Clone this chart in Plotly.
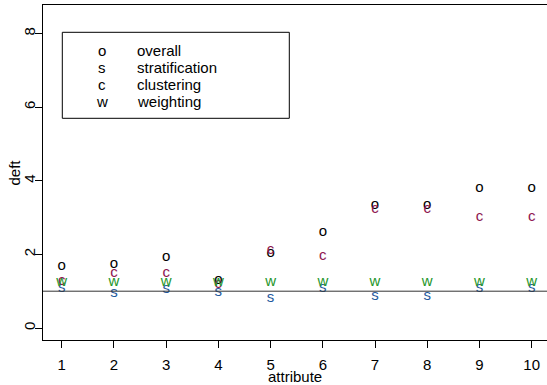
import plotly.graph_objects as go

attribute = [1, 2, 3, 4, 5, 6, 7, 8, 9, 10]
overall = [1.69, 1.73, 1.91, 1.31, 2.02, 2.59, 3.33, 3.33, 3.81, 3.81]
stratification = [1.08, 0.95, 1.06, 0.96, 0.81, 1.07, 0.86, 0.86, 1.07, 1.07]
clustering = [1.28, 1.49, 1.49, 1.18, 2.10, 1.96, 3.23, 3.23, 3.01, 3.01]
weighting = [1.23, 1.23, 1.23, 1.25, 1.23, 1.23, 1.23, 1.24, 1.25, 1.25]

series = [
    ("o", "overall", overall, "#000000"),
    ("s", "stratification", stratification, "#1f5a9e"),
    ("c", "clustering", clustering, "#8e1650"),
    ("w", "weighting", weighting, "#24962a"),
]
y_ticks = [0, 2, 4, 6, 8]
ref_line = 1

FONT = "Liberation Sans, Arial, Helvetica, sans-serif"
W, H = 547, 385
ML, MR, MT, MB = 43, 0, 5, 45
PW, PH = W - ML - MR, H - MT - MB

def px_x(p):
    return (p - ML) / PW

def px_y(p):
    return (H - MB - p) / PH

fig = go.Figure()
for letter, name, vals, col in series:
    fig.add_trace(go.Scatter(
        x=attribute, y=vals, mode="text", text=[letter] * len(vals),
        textposition="middle center",
        textfont=dict(family=FONT, size=15, color=col),
        name=name, showlegend=False, hoverinfo="skip"))

fig.add_shape(type="line", xref="paper", x0=0, x1=1, yref="y", y0=ref_line, y1=ref_line,
              line=dict(color="#333333", width=1))

# legend box
fig.add_shape(type="rect", xref="paper", yref="paper",
              x0=px_x(62.3), x1=px_x(289.3), y0=px_y(118.3), y1=px_y(32.3),
              line=dict(color="#000000", width=1), fillcolor="rgba(0,0,0,0)")
rows = [50, 67.5, 84.5, 101.5]
for (letter, name, vals, col), ry in zip(series, rows):
    fig.add_annotation(xref="paper", yref="paper", x=px_x(101.7), y=px_y(ry),
                       text=letter, showarrow=False, xanchor="center", yanchor="middle",
                       font=dict(family=FONT, size=15, color="#000000"))
    fig.add_annotation(xref="paper", yref="paper", x=px_x(136), y=px_y(ry),
                       text=name, showarrow=False, xanchor="left", yanchor="middle",
                       borderpad=0, font=dict(family=FONT, size=15, color="#000000"))

fig.add_annotation(xref="paper", yref="paper", x=0.5, y=px_y(376),
                   text="attribute", showarrow=False, xanchor="center", yanchor="middle",
                   font=dict(family=FONT, size=15, color="#000000"))
fig.add_annotation(xref="paper", yref="paper", x=px_x(14), y=0.5, textangle=-90,
                   text="deft", showarrow=False, xanchor="center", yanchor="middle",
                   font=dict(family=FONT, size=15, color="#000000"))

fig.update_xaxes(range=[0.642, 10.293], tickmode="array", tickvals=attribute,
                 ticktext=[str(a) for a in attribute], ticks="outside", ticklen=7,
                 tickcolor="#000000", showline=True, linecolor="#000000", linewidth=1,
                 mirror=True, showgrid=False, zeroline=False, automargin=False,
                 ticklabelstandoff=4,
                 tickfont=dict(family=FONT, size=15, color="#000000"))
fig.update_yaxes(range=[-0.326, 8.777], tickmode="array", tickvals=y_ticks,
                 ticktext=[str(t) for t in y_ticks], ticks="outside", ticklen=7,
                 tickcolor="#000000", showline=True, linecolor="#000000", linewidth=1,
                 showgrid=False, zeroline=False, tickangle=-90, automargin=False,
                 ticklabelstandoff=-6,
                 tickfont=dict(family=FONT, size=15, color="#000000"))

fig.update_layout(width=W, height=H, margin=dict(l=ML, r=MR, t=MT, b=MB, autoexpand=False),
                  paper_bgcolor="#ffffff", plot_bgcolor="#ffffff", showlegend=False)

fig.write_html("out.html", config={"displayModeBar": False},
               post_script="document.body.style.margin='0px';document.body.style.overflow='hidden';")
